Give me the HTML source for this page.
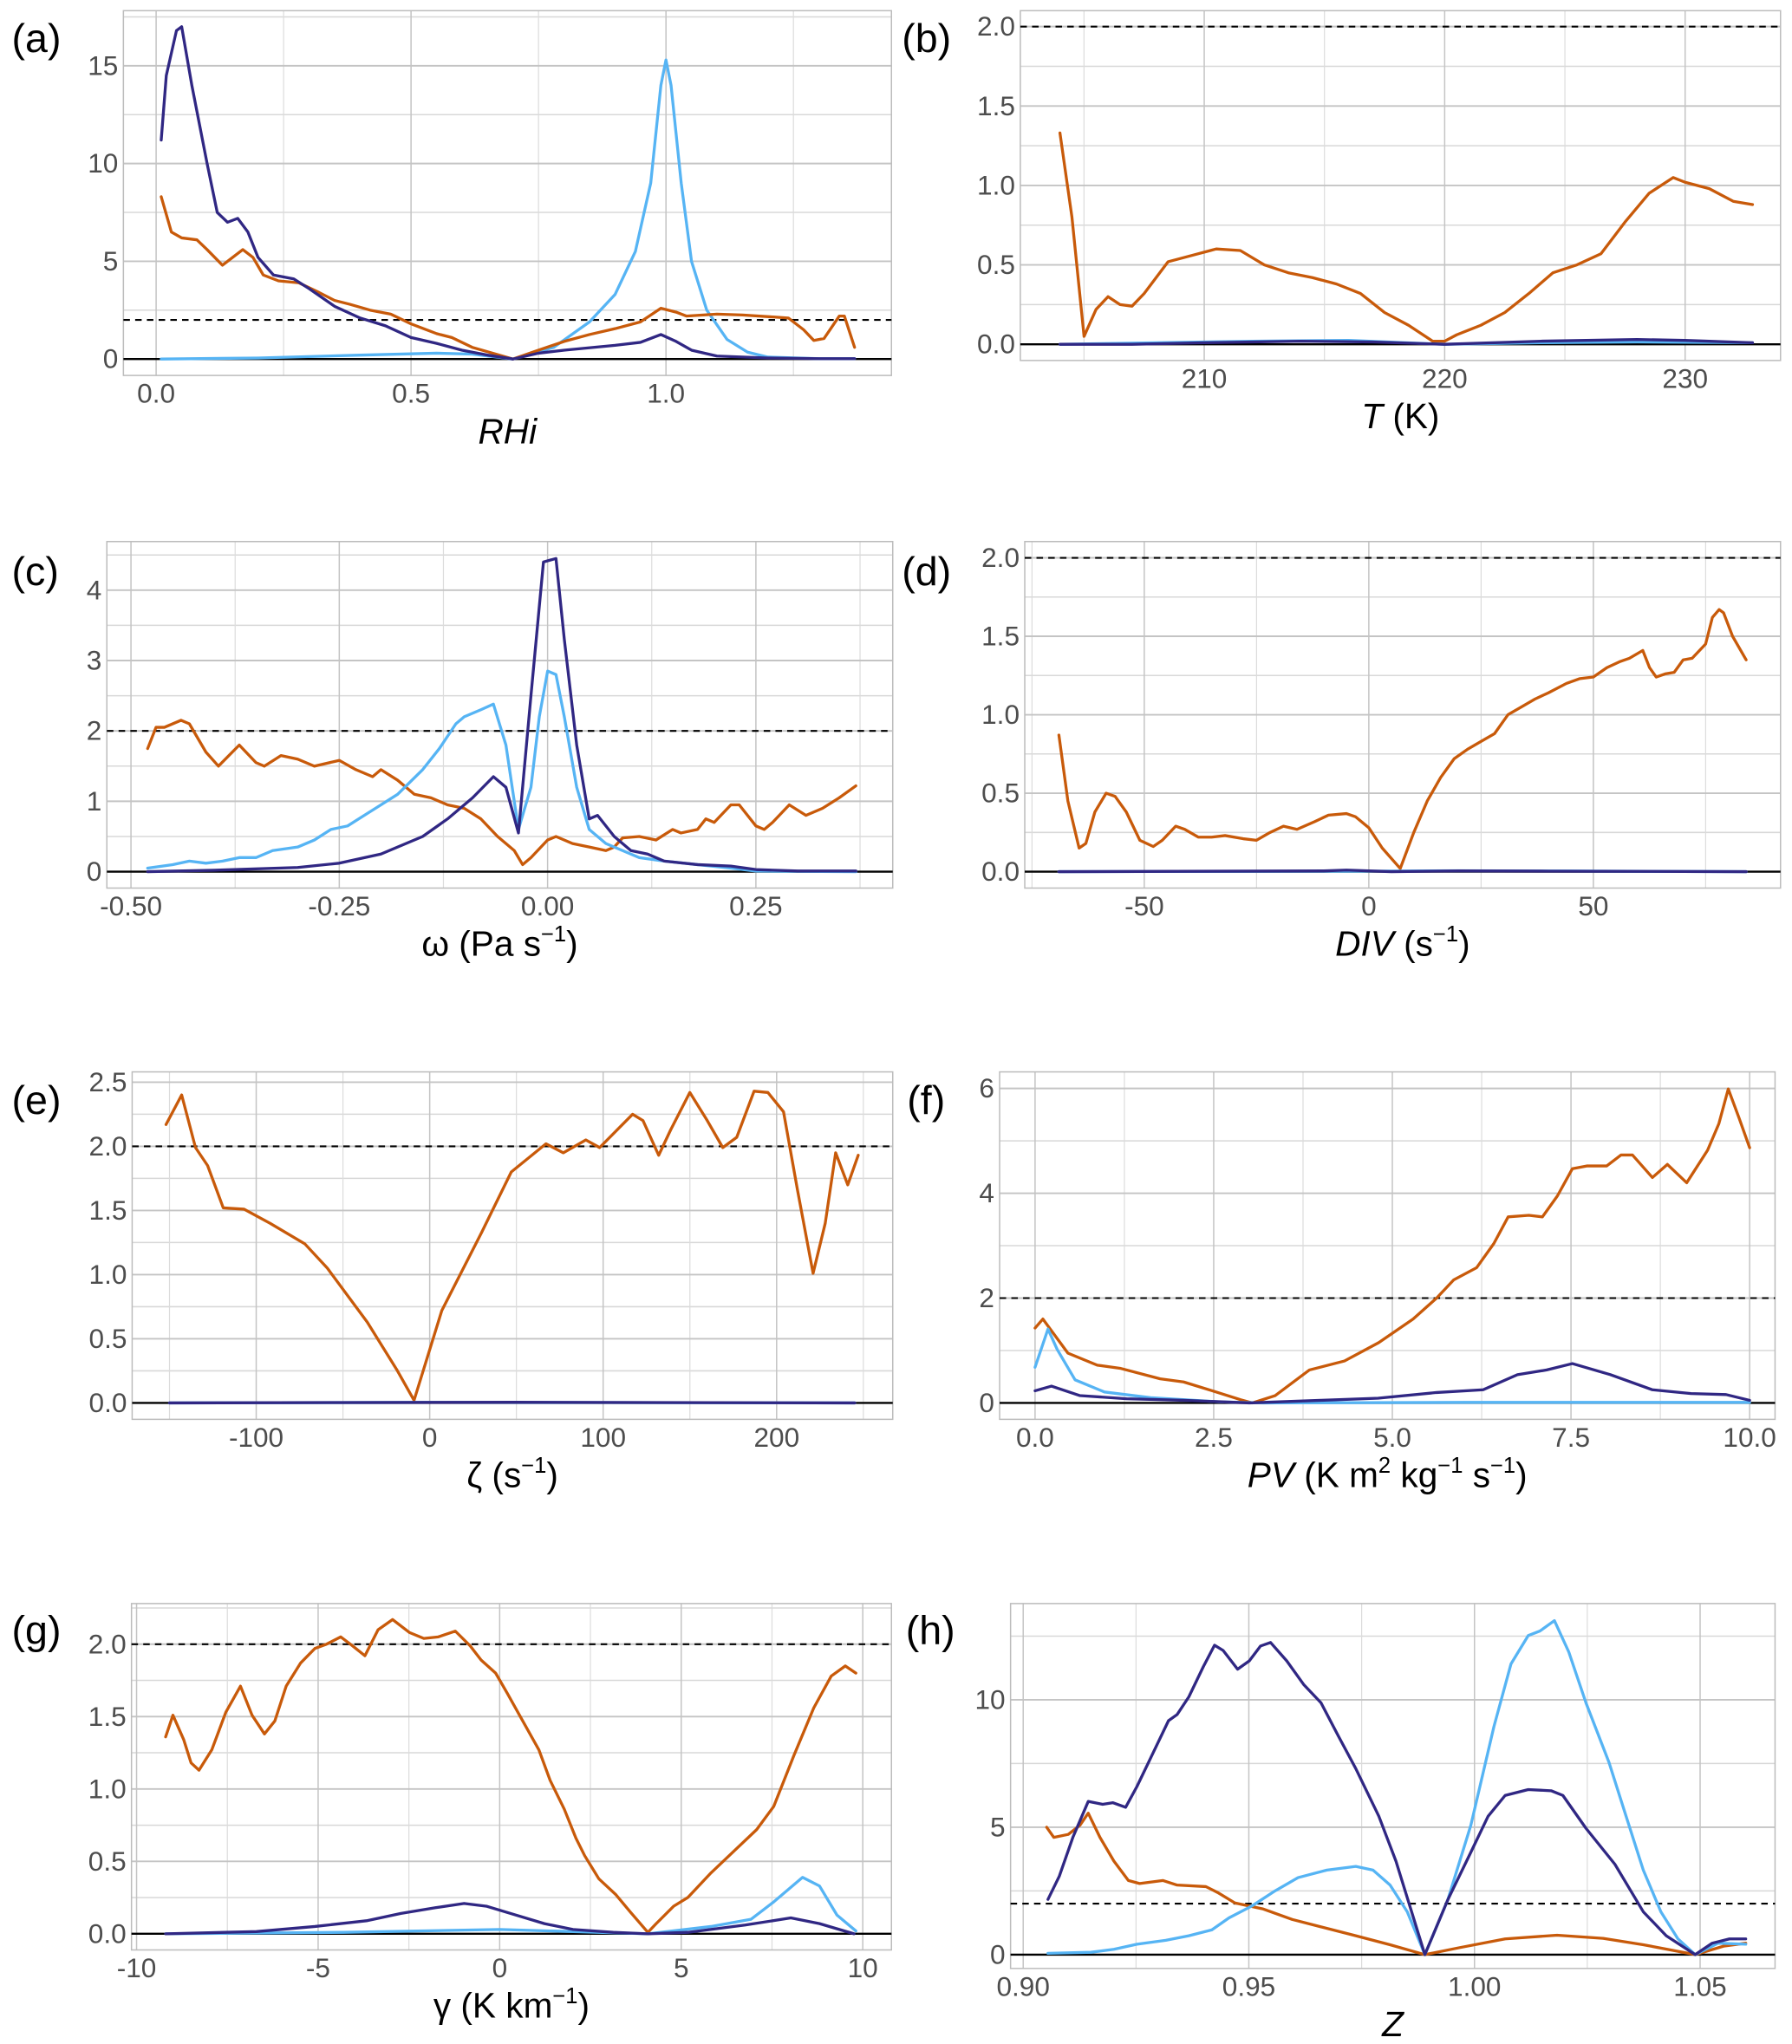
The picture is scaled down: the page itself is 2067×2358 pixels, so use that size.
<!DOCTYPE html>
<html><head><meta charset="utf-8"><style>
html,body{margin:0;padding:0;background:#fff;}
svg{display:block;font-family:"Liberation Sans",Arial,sans-serif;}
</style></head><body>
<svg id="fig" xmlns="http://www.w3.org/2000/svg" width="2067" height="2358" viewBox="0 0 1375 1569" preserveAspectRatio="none"></svg>
<script>
// ---- data (x values and y values per series) ----
const aNavyX=[0.01,0.02,0.04,0.05,0.07,0.1,0.12,0.14,0.16,0.18,0.2,0.23,0.27,0.3,0.35,0.4,0.45,0.5,0.55,0.6,0.65,0.7,0.75,0.8,0.9,0.95,0.99,1.02,1.05,1.1,1.2,1.3,1.37];
const aNavyY=[11.2,14.5,16.8,17,14,10,7.5,7.0,7.2,6.5,5.2,4.3,4.1,3.6,2.7,2.1,1.7,1.1,0.8,0.45,0.2,0,0.3,0.45,0.7,0.85,1.25,0.9,0.45,0.15,0.05,0.02,0.02];
const aOrX=[0.01,0.03,0.05,0.08,0.1,0.13,0.15,0.17,0.19,0.21,0.24,0.28,0.32,0.35,0.38,0.42,0.46,0.5,0.55,0.58,0.62,0.66,0.7,0.75,0.8,0.85,0.9,0.95,0.99,1.02,1.04,1.1,1.15,1.21,1.24,1.27,1.29,1.31,1.34,1.35,1.37];
const aOrY=[8.3,6.5,6.2,6.1,5.6,4.8,5.2,5.6,5.2,4.3,4.0,3.9,3.4,3.0,2.8,2.5,2.3,1.8,1.3,1.1,0.6,0.3,0,0.45,0.9,1.25,1.55,1.9,2.6,2.4,2.2,2.3,2.25,2.15,2.1,1.5,0.95,1.05,2.2,2.2,0.6];
const aBlX=[0.01,0.2,0.4,0.55,0.62,0.7,0.78,0.85,0.9,0.94,0.97,0.99,1.0,1.01,1.03,1.05,1.08,1.12,1.16,1.2,1.3,1.37];
const aBlY=[0,0.05,0.2,0.3,0.25,0,0.6,1.9,3.3,5.5,9,14,15.3,14,9,5,2.5,1.0,0.35,0.1,0.02,0.02];

const bOrX=[204,204.5,205,205.5,206,206.5,207,207.5,208,208.5,209.5,210.5,211.5,212.5,213.5,214.5,215.5,216.5,217.5,218.5,219.5,220,220.5,221.5,222.5,223.5,224.5,225.5,226.5,227.5,228.5,229.5,230,231,232,232.8];
const bOrY=[1.33,0.8,0.05,0.22,0.3,0.25,0.24,0.32,0.42,0.52,0.56,0.6,0.59,0.5,0.45,0.42,0.38,0.32,0.2,0.12,0.02,0.02,0.06,0.12,0.2,0.32,0.45,0.5,0.57,0.77,0.95,1.05,1.02,0.98,0.9,0.88];
const bNavyX=[204,207,210,214,217,220,224,228,230,232.8];
const bNavyY=[0,0,0.01,0.02,0.015,0,0.02,0.03,0.025,0.01];
const bBlX=[204,208,212,216,220,224,228,232.8];
const bBlY=[0,0.01,0.02,0.025,0,0.01,0.015,0.01];

const cOrX=[-0.48,-0.47,-0.46,-0.44,-0.43,-0.41,-0.395,-0.37,-0.35,-0.34,-0.32,-0.3,-0.28,-0.25,-0.23,-0.21,-0.2,-0.18,-0.16,-0.14,-0.12,-0.1,-0.08,-0.06,-0.04,-0.03,-0.02,0,0.01,0.03,0.05,0.07,0.08,0.09,0.11,0.13,0.15,0.16,0.18,0.19,0.2,0.22,0.23,0.25,0.26,0.27,0.29,0.31,0.33,0.35,0.37];
const cOrY=[1.75,2.05,2.05,2.15,2.1,1.7,1.5,1.8,1.55,1.5,1.65,1.6,1.5,1.58,1.45,1.35,1.45,1.3,1.1,1.05,0.95,0.9,0.75,0.5,0.3,0.1,0.2,0.45,0.5,0.4,0.35,0.3,0.35,0.48,0.5,0.45,0.6,0.55,0.6,0.75,0.7,0.95,0.95,0.65,0.6,0.7,0.95,0.8,0.9,1.05,1.22];
const cBlX=[-0.48,-0.45,-0.43,-0.41,-0.39,-0.37,-0.35,-0.33,-0.3,-0.28,-0.26,-0.24,-0.22,-0.2,-0.18,-0.15,-0.13,-0.11,-0.1,-0.08,-0.065,-0.05,-0.035,-0.02,-0.01,0,0.01,0.02,0.035,0.05,0.07,0.09,0.11,0.14,0.18,0.22,0.25,0.37];
const cBlY=[0.05,0.1,0.15,0.12,0.15,0.2,0.2,0.3,0.35,0.45,0.6,0.65,0.8,0.95,1.1,1.45,1.75,2.1,2.2,2.3,2.38,1.8,0.6,1.2,2.2,2.85,2.8,2.2,1.2,0.6,0.4,0.3,0.2,0.15,0.1,0.05,0.01,0];
const cNavyX=[-0.48,-0.4,-0.3,-0.25,-0.2,-0.15,-0.12,-0.09,-0.065,-0.05,-0.035,-0.02,-0.005,0.01,0.02,0.035,0.05,0.06,0.08,0.1,0.12,0.14,0.18,0.22,0.25,0.3,0.37];
const cNavyY=[0,0.02,0.06,0.12,0.25,0.5,0.75,1.05,1.35,1.2,0.55,2.5,4.4,4.45,3.3,1.8,0.75,0.8,0.5,0.3,0.25,0.15,0.1,0.08,0.03,0.01,0.01];

const dOrX=[-69,-67,-64.5,-63,-61,-58.5,-56.5,-54,-51,-48,-46,-43,-41,-38,-35,-32,-28,-25,-22,-19,-16,-12,-9,-5,-3,0,3,7,10,13,16,19,22,25,28,31,34,37,40,44,47,50,53,56,58,61,62.5,64,66,68,70,72,75,76.5,78,79,81,84];
const dOrY=[0.87,0.45,0.15,0.18,0.38,0.5,0.48,0.38,0.2,0.16,0.2,0.29,0.27,0.22,0.22,0.23,0.21,0.2,0.25,0.29,0.27,0.32,0.36,0.37,0.35,0.28,0.15,0.02,0.25,0.45,0.6,0.72,0.78,0.83,0.88,1.0,1.05,1.1,1.14,1.2,1.23,1.24,1.3,1.34,1.36,1.41,1.3,1.24,1.26,1.27,1.35,1.36,1.45,1.62,1.67,1.65,1.5,1.35];
const dNavyX=[-69,-10,-5,5,20,40,84];
const dNavyY=[0,0.005,0.01,0,0.005,0.003,0];
const dBlX=[-69,0,20,45,84];
const dBlY=[0,0.003,0.006,0.004,0];

const eOrX=[-152,-143,-135,-128,-119,-107,-92,-72,-59,-36,-19,-9,7,30,47,67,77,90,98,117,123,132,139,150,160,169,177,187,195,204,212,221,228,234,241,247];
const eOrY=[2.17,2.4,1.99,1.85,1.52,1.51,1.4,1.24,1.05,0.63,0.26,0.02,0.72,1.33,1.8,2.02,1.95,2.05,1.99,2.25,2.2,1.93,2.13,2.42,2.2,1.99,2.07,2.43,2.42,2.27,1.66,1.01,1.4,1.95,1.7,1.93];
const eNavyX=[-150,-50,50,245];
const eNavyY=[0,0.003,0.005,0];
const eBlX=[-150,0,100,245];
const eBlY=[0,0.004,0.003,0];

const fOrX=[0,0.11,0.46,0.87,1.19,1.75,2.08,2.48,2.88,3.04,3.36,3.84,4.33,4.81,5.29,5.62,5.86,6.18,6.42,6.62,6.91,7.1,7.31,7.52,7.72,8.0,8.2,8.36,8.64,8.85,9.12,9.41,9.57,9.7,9.85,10.0];
const fOrY=[1.43,1.6,0.95,0.72,0.66,0.46,0.4,0.23,0.06,0,0.14,0.63,0.8,1.15,1.6,2.0,2.35,2.58,3.04,3.55,3.58,3.55,3.95,4.47,4.52,4.52,4.73,4.73,4.3,4.55,4.2,4.82,5.33,5.99,5.44,4.87];
const fNavyX=[0,0.23,0.63,1.28,2.08,3.0,4.0,4.8,5.62,6.27,6.75,7.16,7.52,8.05,8.64,9.18,9.67,10];
const fNavyY=[0.23,0.32,0.14,0.08,0.05,0,0.05,0.09,0.2,0.25,0.54,0.63,0.75,0.54,0.25,0.18,0.16,0.05];
const fBlX=[0,0.18,0.31,0.56,0.97,1.62,2.59,3.2,6,10];
const fBlY=[0.68,1.41,1.02,0.44,0.21,0.1,0.02,0,0.01,0.01];

const gOrX=[-9.2,-9.0,-8.7,-8.5,-8.28,-7.93,-7.54,-7.14,-6.82,-6.48,-6.19,-5.88,-5.48,-5.09,-4.77,-4.38,-4.06,-3.71,-3.35,-2.95,-2.48,-2.09,-1.69,-1.22,-0.82,-0.51,-0.11,0.21,0.68,1.08,1.39,1.78,2.1,2.34,2.73,3.2,3.6,4.08,4.31,4.79,5.18,5.82,6.45,7.08,7.55,8.1,8.65,9.13,9.52,9.81];
const gOrY=[1.36,1.51,1.34,1.18,1.13,1.27,1.53,1.71,1.51,1.38,1.47,1.71,1.87,1.97,2.0,2.05,1.99,1.92,2.1,2.17,2.08,2.04,2.05,2.09,1.99,1.89,1.8,1.66,1.45,1.27,1.06,0.86,0.66,0.54,0.38,0.27,0.15,0.01,0.07,0.19,0.25,0.42,0.57,0.72,0.88,1.23,1.56,1.78,1.85,1.8];
const gNavyX=[-9.2,-6.7,-5.09,-3.67,-2.72,-1.77,-0.98,-0.35,0.44,1.23,2.02,3.13,4.08,5.18,6.76,8.02,8.81,9.76];
const gNavyY=[0,0.015,0.05,0.09,0.14,0.18,0.21,0.19,0.13,0.07,0.03,0.01,0,0.01,0.06,0.11,0.07,0];
const gBlX=[-9.2,-4.3,0,2.02,4.08,5.82,6.92,7.55,8.34,8.81,9.29,9.81];
const gBlY=[0,0.01,0.03,0.015,0,0.05,0.1,0.22,0.39,0.33,0.13,0.02];

const hNavyX=[0.9055,0.908,0.911,0.9144,0.9176,0.9199,0.9227,0.9252,0.9284,0.9322,0.9341,0.9367,0.9399,0.9424,0.9443,0.9475,0.9501,0.9526,0.9548,0.9584,0.9622,0.966,0.9698,0.9737,0.9788,0.9826,0.989,0.9941,0.9992,1.003,1.0068,1.0119,1.017,1.0196,1.0247,1.0311,1.0374,1.0425,1.0489,1.0527,1.0565,1.0601];
const hNavyY=[2.17,3.08,4.6,6.01,5.9,5.96,5.78,6.6,7.77,9.18,9.42,10.12,11.3,12.14,11.94,11.2,11.53,12.11,12.25,11.53,10.59,9.88,8.59,7.3,5.43,3.67,0,2.15,4.02,5.43,6.25,6.48,6.43,6.25,4.96,3.55,1.68,0.74,0,0.45,0.62,0.62];
const hBlX=[0.9055,0.915,0.9201,0.9252,0.9316,0.9367,0.9418,0.9456,0.9507,0.9558,0.9609,0.9673,0.9737,0.9775,0.9813,0.9851,0.989,0.9941,0.9992,1.0043,1.0081,1.0119,1.0145,1.0177,1.0209,1.0247,1.0298,1.0336,1.0374,1.0413,1.0451,1.0489,1.054,1.0601];
const hBlY=[0.05,0.09,0.21,0.41,0.56,0.74,0.97,1.44,1.91,2.5,3.02,3.32,3.46,3.32,2.73,1.68,0,2.15,5.08,8.95,11.41,12.52,12.7,13.11,11.88,9.88,7.54,5.43,3.32,1.68,0.62,0,0.45,0.41];
const hOrX=[0.9052,0.9068,0.91,0.9126,0.9144,0.917,0.9201,0.9233,0.9258,0.931,0.9341,0.9405,0.9431,0.9469,0.9532,0.9596,0.966,0.9737,0.9813,0.989,0.9966,1.0068,1.0183,1.0285,1.0374,1.0489,1.0552,1.0601];
const hOrY=[5.0,4.6,4.72,5.08,5.55,4.6,3.67,2.91,2.79,2.91,2.73,2.67,2.44,2.03,1.79,1.38,1.09,0.74,0.39,0,0.27,0.62,0.76,0.64,0.39,0,0.33,0.45];

// ---- drawing ----
const NS="http://www.w3.org/2000/svg";
const svg=document.getElementById('fig');
const ORANGE="#c85a0a", BLUE="#56b4f4", NAVY="#302783";
function mk(tag,attrs,parent){const e=document.createElementNS(NS,tag);for(const k in attrs)e.setAttribute(k,attrs[k]);(parent||svg).appendChild(e);return e;}

function panel(p){
  const g=mk('g',{});
  
  
  const [L,T,R,B]=p.box;
  const sx=v=>p.xp0+(v-p.xv0)*(p.xp1-p.xp0)/(p.xv1-p.xv0);
  const sy=v=>p.yp0+(v-p.yv0)*(p.yp1-p.yp0)/(p.yv1-p.yv0);
  const bg=mk('rect',{x:L,y:T,width:R-L,height:B-T,fill:'#fff'},g);
  
  
  p.yminor.forEach(v=>{const y=sy(v);if(y>T&&y<B){const l=mk('line',{x1:L,x2:R,y1:y,y2:y,stroke:'#d8d8d8','stroke-width':1},g);}});
  p.xminor.forEach(v=>{const x=sx(v);if(x>L&&x<R){const l=mk('line',{x1:x,x2:x,y1:T,y2:B,stroke:'#dcdcdc','stroke-width':0.8},g);}});
  p.yticks.forEach((v,i)=>{const y=sy(v);const l=mk('line',{x1:L,x2:R,y1:y,y2:y,stroke:'#c4c4c4','stroke-width':1.3},g);
    const t=mk('text',{x:L-4,y:y+7,'text-anchor':'end','font-size':21,fill:'#4d4d4d'},g);t.textContent=p.ylabels[i];});
  p.xticks.forEach((v,i)=>{const x=sx(v);const l=mk('line',{x1:x,x2:x,y1:T,y2:B,stroke:'#c4c4c4','stroke-width':1},g);
    const t=mk('text',{x:x,y:B+21,'text-anchor':'middle','font-size':21,fill:'#4d4d4d'},g);t.textContent=p.xlabels[i];});
  const br=mk('rect',{x:L,y:T,width:R-L,height:B-T,fill:'none',stroke:'#bcbcbc','stroke-width':1},g);
  
  const z=mk('line',{x1:L,x2:R,y1:sy(0),y2:sy(0),stroke:'#000','stroke-width':1.6},g);
  
  const dl=mk('line',{x1:L,x2:R,y1:sy(2),y2:sy(2),stroke:'#000','stroke-width':1.4,'stroke-dasharray':'5,4'},g);
  
  p.series.forEach(s=>{
    const d=s.x.map((v,i)=>(i?'L':'M')+sx(v).toFixed(1)+','+sy(s.y[i]).toFixed(1)).join(' ');
    const path=mk('path',{d:d,fill:'none',stroke:s.c,'stroke-width':2.2,'stroke-linejoin':'round','stroke-linecap':'round'},g);
    
    
  });
  const lab=mk('text',{x:p.lx,y:p.ly,'font-size':31,fill:'#000'},g);
  lab.textContent='('+p.id+')';
  
  
  const tt=mk('text',{x:(L+R)/2,y:B+52,'text-anchor':'middle','font-size':27,fill:'#000'},g);
  tt.innerHTML=p.title;
  
  
}
const sup=s=>'<tspan dy="-11" font-size="17">'+s+'</tspan><tspan dy="11">';

panel({id:'a',box:[94.7,8.2,684,288.2],xv0:0,xp0:119.8,xv1:1,xp1:511,yv0:0,yp0:275.6,yv1:15,yp1:50.5,
 xticks:[0,0.5,1],xlabels:['0.0','0.5','1.0'],xminor:[0.25,0.75,1.25],yticks:[0,5,10,15],ylabels:['0','5','10','15'],yminor:[2.5,7.5,12.5,17.5],
 lx:9,ly:40,title:'<tspan font-style="italic">RHi</tspan>',
 series:[{name:'series-light-blue',x:aBlX,y:aBlY,c:BLUE},{name:'series-orange',x:aOrX,y:aOrY,c:ORANGE},{name:'series-navy',x:aNavyX,y:aNavyY,c:NAVY}]});
panel({id:'b',box:[782.9,8.2,1366.2,276.7],xv0:210,xp0:924,xv1:230,xp1:1293,yv0:0,yp0:264.3,yv1:2,yp1:20.4,
 xticks:[210,220,230],xlabels:['210','220','230'],xminor:[205,215,225],yticks:[0,0.5,1,1.5,2],ylabels:['0.0','0.5','1.0','1.5','2.0'],yminor:[0.25,0.75,1.25,1.75],
 lx:692,ly:40,title:'<tspan font-style="italic">T</tspan> (K)',
 series:[{name:'series-orange',x:bOrX,y:bOrY,c:ORANGE},{name:'series-light-blue',x:bBlX,y:bBlY,c:BLUE},{name:'series-navy',x:bNavyX,y:bNavyY,c:NAVY}]});
panel({id:'c',box:[82,415.7,685,681.7],xv0:-0.5,xp0:100.5,xv1:0.25,xp1:580,yv0:0,yp0:669.1,yv1:4,yp1:453,
 xticks:[-0.5,-0.25,0,0.25],xlabels:['-0.50','-0.25','0.00','0.25'],xminor:[-0.375,-0.125,0.125,0.375],yticks:[0,1,2,3,4],ylabels:['0','1','2','3','4'],yminor:[0.5,1.5,2.5,3.5,4.5],
 lx:9,ly:449,title:'ω (Pa s'+sup('−1')+')</tspan>',
 series:[{name:'series-orange',x:cOrX,y:cOrY,c:ORANGE},{name:'series-light-blue',x:cBlX,y:cBlY,c:BLUE},{name:'series-navy',x:cNavyX,y:cNavyY,c:NAVY}]});
panel({id:'d',box:[786.3,415.7,1366.2,681.7],xv0:-50,xp0:878,xv1:50,xp1:1222.6,yv0:0,yp0:669.1,yv1:2,yp1:428.2,
 xticks:[-50,0,50],xlabels:['-50','0','50'],xminor:[-75,-25,25,75],yticks:[0,0.5,1,1.5,2],ylabels:['0.0','0.5','1.0','1.5','2.0'],yminor:[0.25,0.75,1.25,1.75],
 lx:692,ly:449,title:'<tspan font-style="italic">DIV</tspan> (s'+sup('−1')+')</tspan>',
 series:[{name:'series-orange',x:dOrX,y:dOrY,c:ORANGE},{name:'series-light-blue',x:dBlX,y:dBlY,c:BLUE},{name:'series-navy',x:dNavyX,y:dNavyY,c:NAVY}]});
panel({id:'e',box:[101.4,822.8,685,1089.5],xv0:-100,xp0:196.6,xv1:200,xp1:595.9,yv0:0,yp0:1076.9,yv1:2.5,yp1:830.7,
 xticks:[-100,0,100,200],xlabels:['-100','0','100','200'],xminor:[-150,-50,50,150,250],yticks:[0,0.5,1,1.5,2,2.5],ylabels:['0.0','0.5','1.0','1.5','2.0','2.5'],yminor:[0.25,0.75,1.25,1.75,2.25],
 lx:9,ly:855,title:'ζ (s'+sup('−1')+')</tspan>',
 series:[{name:'series-orange',x:eOrX,y:eOrY,c:ORANGE},{name:'series-light-blue',x:eBlX,y:eBlY,c:BLUE},{name:'series-navy',x:eNavyX,y:eNavyY,c:NAVY}]});
panel({id:'f',box:[767,822.8,1362,1089.5],xv0:0,xp0:794.2,xv1:10,xp1:1342.5,yv0:0,yp0:1076.9,yv1:6,yp1:835.5,
 xticks:[0,2.5,5,7.5,10],xlabels:['0.0','2.5','5.0','7.5','10.0'],xminor:[1.25,3.75,6.25,8.75],yticks:[0,2,4,6],ylabels:['0','2','4','6'],yminor:[1,3,5],
 lx:696,ly:855,title:'<tspan font-style="italic">PV</tspan> (K m'+sup('2')+' kg</tspan>'+sup('−1')+' s</tspan>'+sup('−1')+')</tspan>',
 series:[{name:'series-orange',x:fOrX,y:fOrY,c:ORANGE},{name:'series-light-blue',x:fBlX,y:fBlY,c:BLUE},{name:'series-navy',x:fNavyX,y:fNavyY,c:NAVY}]});
panel({id:'g',box:[100.9,1230.9,684,1496.8],xv0:-10,xp0:104.8,xv1:10,xp1:662,yv0:0,yp0:1484.4,yv1:2,yp1:1262.1,
 xticks:[-10,-5,0,5,10],xlabels:['-10','-5','0','5','10'],xminor:[-7.5,-2.5,2.5,7.5],yticks:[0,0.5,1,1.5,2],ylabels:['0.0','0.5','1.0','1.5','2.0'],yminor:[0.25,0.75,1.25,1.75,2.25],
 lx:9,ly:1262,title:'γ (K km'+sup('−1')+')</tspan>',
 series:[{name:'series-orange',x:gOrX,y:gOrY,c:ORANGE},{name:'series-light-blue',x:gBlX,y:gBlY,c:BLUE},{name:'series-navy',x:gNavyX,y:gNavyY,c:NAVY}]});
panel({id:'h',box:[775.4,1230.9,1362,1511],xv0:0.9,xp0:785.1,xv1:1.05,xp1:1304.5,yv0:0,yp0:1500.4,yv1:10,yp1:1304.8,
 xticks:[0.9,0.95,1.0,1.05],xlabels:['0.90','0.95','1.00','1.05'],xminor:[0.925,0.975,1.025],yticks:[0,5,10],ylabels:['0','5','10'],yminor:[2.5,7.5,12.5],
 lx:695,ly:1262,title:'<tspan font-style="italic">Z</tspan>',
 series:[{name:'series-orange',x:hOrX,y:hOrY,c:ORANGE},{name:'series-light-blue',x:hBlX,y:hBlY,c:BLUE},{name:'series-navy',x:hNavyX,y:hNavyY,c:NAVY}]});
</script>
</body></html>
